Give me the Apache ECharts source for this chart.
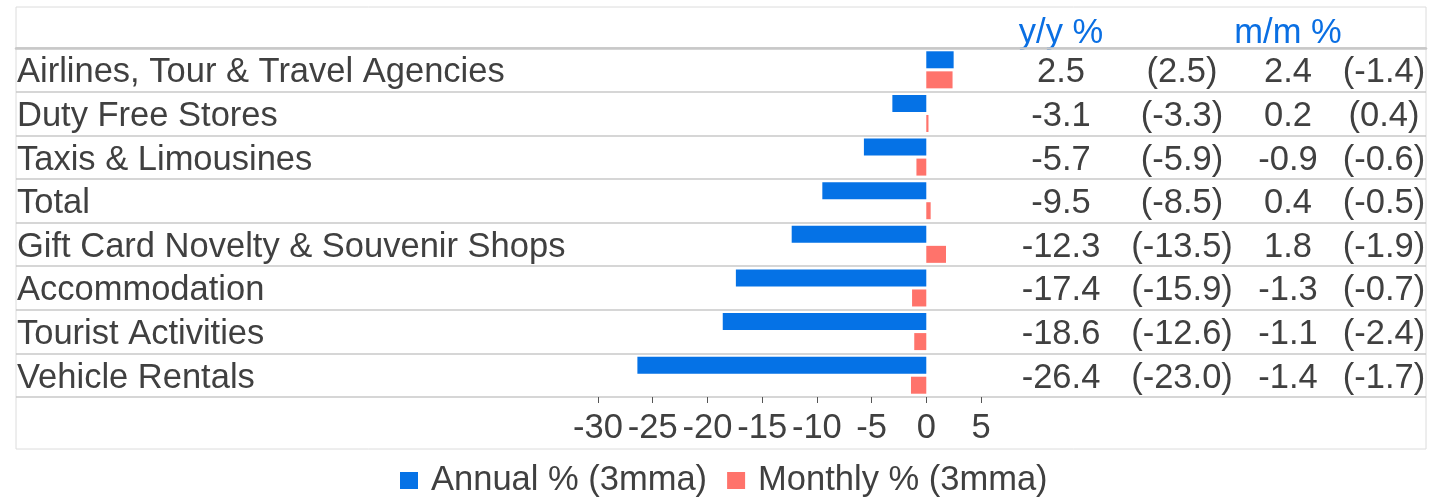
<!DOCTYPE html>
<html>
<head>
<meta charset="utf-8">
<script src="https://cdn.jsdelivr.net/npm/echarts@6/dist/echarts.min.js"></script>
<style>
  html, body { margin: 0; padding: 0; background: #fff; }
  #chart { width: 1429px; height: 499px; }
</style>
</head>
<body>
<div id="chart"></div>
<script>
// Tourism-related spending by category (3-month moving average)
const categories = [
  'Airlines, Tour & Travel Agencies',
  'Duty Free Stores',
  'Taxis & Limousines',
  'Total',
  'Gift Card Novelty & Souvenir Shops',
  'Accommodation',
  'Tourist Activities',
  'Vehicle Rentals'
];
const annual      = [2.5, -3.1, -5.7, -9.5, -12.3, -17.4, -18.6, -26.4];
const annualPrev  = [2.5, -3.3, -5.9, -8.5, -13.5, -15.9, -12.6, -23.0];
const monthly     = [2.4, 0.2, -0.9, 0.4, 1.8, -1.3, -1.1, -1.4];
const monthlyPrev = [-1.4, 0.4, -0.6, -0.5, -1.9, -0.7, -2.4, -1.7];
const seriesNames = ['Annual % (3mma)', 'Monthly % (3mma)'];
const columnHeads = ['y/y %', 'm/m %'];

const FONT = "'Liberation Sans', Arial, sans-serif";
const FS = 34.5;
const TEXT = '#404040';
const HEAD = '#0a6fe3';
const LINE = '#c8c8c8';

const fmt = v => v.toFixed(1);
const fmtPrev = v => '(' + v.toFixed(1) + ')';

// row text sits a little below the row centre
const rowRich = { t: { fontSize: FS, fontFamily: FONT, color: TEXT, padding: [6, 0, 0, 0] } };
const rowText = s => '{t|' + s + '}';

// one right-hand text column per array, centred at a fixed offset from the bar grid
function column(values, formatter, offset, head) {
  const ax = {
    type: 'category', gridIndex: 1, inverse: true, data: categories,
    position: 'right', offset: offset,
    axisLine: { show: false }, axisTick: { show: false }, splitLine: { show: false },
    axisLabel: {
      interval: 0, margin: 0, align: 'center',
      rich: rowRich,
      formatter: (v, i) => rowText(formatter(values[i]))
    }
  };
  if (head) {
    ax.name = head;
    ax.nameLocation = 'start';
    ax.nameGap = -3;
    ax.nameTextStyle = { color: HEAD, fontSize: FS, fontFamily: FONT, align: 'center' };
  }
  return ax;
}

const chart = echarts.init(document.getElementById('chart'), null, { renderer: 'canvas' });
chart.setOption({
  animation: false,
  textStyle: { fontFamily: FONT },
  legend: {
    bottom: -4, left: 395,
    itemWidth: 18, itemHeight: 17, itemGap: 20, icon: 'rect',
    textStyle: { fontSize: FS, color: TEXT, fontFamily: FONT, padding: [0, 0, 0, 8] },
    data: seriesNames
  },
  grid: [
    // rows of the table: full width
    { left: 16, right: 3, top: 48, bottom: 102 },
    // bar area
    { left: 598, right: 448, top: 48, bottom: 102 },
    // outer frame
    { left: 16, right: 3, top: 7, bottom: 50, show: true, borderColor: '#dcdcdc', borderWidth: 1, backgroundColor: 'transparent' }
  ],
  xAxis: [
    {
      type: 'value', gridIndex: 0, position: 'top', min: 0, max: 1,
      axisLine: { show: true, lineStyle: { color: LINE, width: 2.5 } },
      axisTick: { show: false }, axisLabel: { show: false }, splitLine: { show: false }
    },
    {
      type: 'value', gridIndex: 1, min: -30, max: 5, interval: 5,
      axisLine: { show: false },
      axisTick: { show: true, length: 6, lineStyle: { color: '#555' } },
      splitLine: { show: false },
      axisLabel: { fontSize: FS, color: TEXT, fontFamily: FONT, margin: 14 }
    },
    { type: 'value', gridIndex: 2, show: false }
  ],
  yAxis: [
    {
      type: 'category', gridIndex: 0, inverse: true, data: categories,
      axisLine: { show: false }, axisTick: { show: false },
      splitLine: { show: true, lineStyle: { color: LINE, width: 1.5 } },
      axisLabel: {
        interval: 0, align: 'left', margin: -1,
        rich: rowRich, formatter: v => rowText(v)
      }
    },
    {
      type: 'category', gridIndex: 1, inverse: true, data: categories,
      axisLine: { show: false }, axisTick: { show: false },
      axisLabel: { show: false }, splitLine: { show: false }
    },
    column(annual, fmt, 80, columnHeads[0]),
    column(annualPrev, fmtPrev, 201),
    column(monthly, fmt, 307, columnHeads[1]),
    column(monthlyPrev, fmtPrev, 403),
    { type: 'category', gridIndex: 2, show: false, data: categories }
  ],
  series: [
    {
      name: seriesNames[0], type: 'bar', xAxisIndex: 1, yAxisIndex: 1,
      data: annual, barWidth: 17, barGap: '18%',
      itemStyle: { color: '#0572e6' }
    },
    {
      name: seriesNames[1], type: 'bar', xAxisIndex: 1, yAxisIndex: 1,
      data: monthly, barWidth: 17, barGap: '18%',
      itemStyle: { color: '#ff736b' }
    }
  ]
});
</script>
</body>
</html>
